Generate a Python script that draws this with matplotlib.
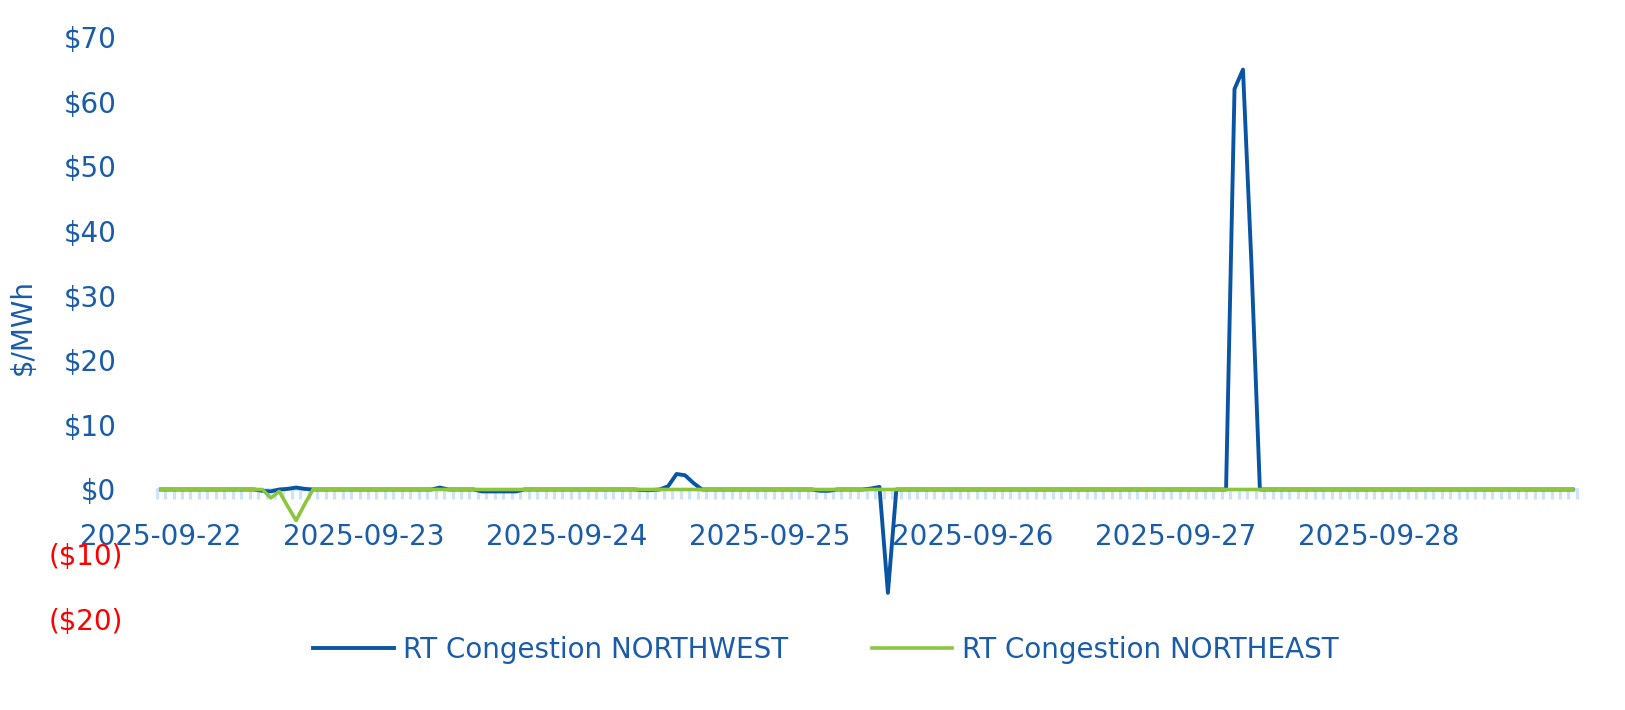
import numpy as np
import matplotlib.pyplot as plt
from matplotlib.transforms import ScaledTranslation

# hourly real-time congestion, 2025-09-22 00:00 .. 2025-09-28 23:00 ($/MWh)
rt_northwest = [
    0, 0, 0, 0, 0, 0, 0, 0, 0, 0, 0, 0, -0.2, -0.3, 0, 0.1, 0.3, 0.1, 0, 0, 0, 0, 0, 0,
    0, 0, 0, 0, 0, 0, 0, 0, 0, 0.3, 0, 0, 0, 0, -0.3, -0.3, -0.3, -0.3, -0.3, 0, 0, 0, 0, 0,
    0, 0, 0, 0, 0, 0, 0, 0, 0, -0.1, -0.1, 0, 0.5, 2.4, 2.2, 1.0, 0, 0, 0, 0, 0, 0, 0, 0,
    0, 0, 0, 0, 0, 0, -0.2, -0.2, 0, 0, 0, 0, 0.15, 0.4, -16.0, 0, 0, 0, 0, 0, 0, 0, 0, 0,
    0, 0, 0, 0, 0, 0, 0, 0, 0, 0, 0, 0, 0, 0, 0, 0, 0, 0, 0, 0, 0, 0, 0, 0,
    0, 0, 0, 0, 0, 0, 0, 62.0, 65.0, 35.0, 0, 0, 0, 0, 0, 0, 0, 0, 0, 0, 0, 0, 0, 0,
    0, 0, 0, 0, 0, 0, 0, 0, 0, 0, 0, 0, 0, 0, 0, 0, 0, 0, 0, 0, 0, 0, 0, 0,
]
rt_northeast = [
    0, 0, 0, 0, 0, 0, 0, 0, 0, 0, 0, 0, 0, -1.3, -0.3, -2.6, -4.8, -2.3, 0, 0, 0, 0, 0, 0,
    0, 0, 0, 0, 0, 0, 0, 0, 0, 0, 0, 0, 0, 0, 0, 0, 0, 0, 0, 0, 0, 0, 0, 0,
    0, 0, 0, 0, 0, 0, 0, 0, 0, 0, 0, 0, 0, 0, 0, 0, 0, 0, 0, 0, 0, 0, 0, 0,
    0, 0, 0, 0, 0, 0, 0, 0, 0, 0, 0, 0, 0, 0, 0, 0, 0, 0, 0, 0, 0, 0, 0, 0,
    0, 0, 0, 0, 0, 0, 0, 0, 0, 0, 0, 0, 0, 0, 0, 0, 0, 0, 0, 0, 0, 0, 0, 0,
    0, 0, 0, 0, 0, 0, 0, 0, 0, 0, 0, 0, 0, 0, 0, 0, 0, 0, 0, 0, 0, 0, 0, 0,
    0, 0, 0, 0, 0, 0, 0, 0, 0, 0, 0, 0, 0, 0, 0, 0, 0, 0, 0, 0, 0, 0, 0, 0,
]
day_labels = ["2025-09-22", "2025-09-23", "2025-09-24", "2025-09-25",
              "2025-09-26", "2025-09-27", "2025-09-28"]
y_ticks = [-20, -10, 0, 10, 20, 30, 40, 50, 60, 70]

blue = "#1a5ca8"
line_blue = "#0a55a3"
green = "#8cc63f"
light = "#cce4f9"

plt.rcParams["font.family"] = "DejaVu Sans"
fs = 20

hours = np.arange(len(rt_northwest))

fig = plt.figure(figsize=(16.25, 7.1), dpi=100)
ax = fig.add_axes([0.0964, 0.1286, 0.874, 0.8189])

ax.plot(hours, rt_northwest, color=line_blue, linewidth=2.8, label="RT Congestion NORTHWEST")
ax.plot(hours, rt_northeast, color=green, linewidth=2.6, label="RT Congestion NORTHEAST")

ax.set_xlim(-0.5, len(hours) - 0.5)
ax.set_ylim(-20, 70)

for s in ["top", "right", "left"]:
    ax.spines[s].set_visible(False)
ax.spines["bottom"].set_position(("data", 0))
ax.spines["bottom"].set_color(light)
ax.spines["bottom"].set_linewidth(2)
ax.spines["bottom"].set_zorder(0)

# day labels at midnight, hourly tick marks between points
ax.set_xticks(np.arange(0, len(hours), 24))
ax.set_xticklabels(day_labels)
ax.set_xticks(np.arange(-0.5, len(hours), 1), minor=True)
ax.tick_params(axis="x", which="major", length=0, pad=24, labelsize=fs, labelcolor=blue)
ax.tick_params(axis="x", which="minor", length=7, width=2.3, color=light)

ax.set_yticks(y_ticks)
ylabels = []
for v in y_ticks:
    if v < 0:
        ylabels.append("($" + str(-v) + ")")
    else:
        ylabels.append("$" + str(v))
ax.set_yticklabels(ylabels)
ax.tick_params(axis="y", length=0, pad=29, labelsize=fs, labelcolor=blue)
for lab, v in zip(ax.get_yticklabels(), y_ticks):
    if v < 0:
        lab.set_color("red")
        lab.set_transform(lab.get_transform() + ScaledTranslation(7 / 100, 0, fig.dpi_scale_trans))

fig.text(23 / 1625, 0.54, "$/MWh", rotation=90, ha="center", va="center",
         fontsize=fs, color=blue)

leg = fig.legend(loc="center", bbox_to_anchor=(826 / 1625, 0.085), ncol=2, frameon=False,
                 fontsize=fs, handlelength=2.9, handletextpad=0.35, columnspacing=3.0)
for t in leg.get_texts():
    t.set_color(blue)

plt.savefig("out.png", dpi=100)
